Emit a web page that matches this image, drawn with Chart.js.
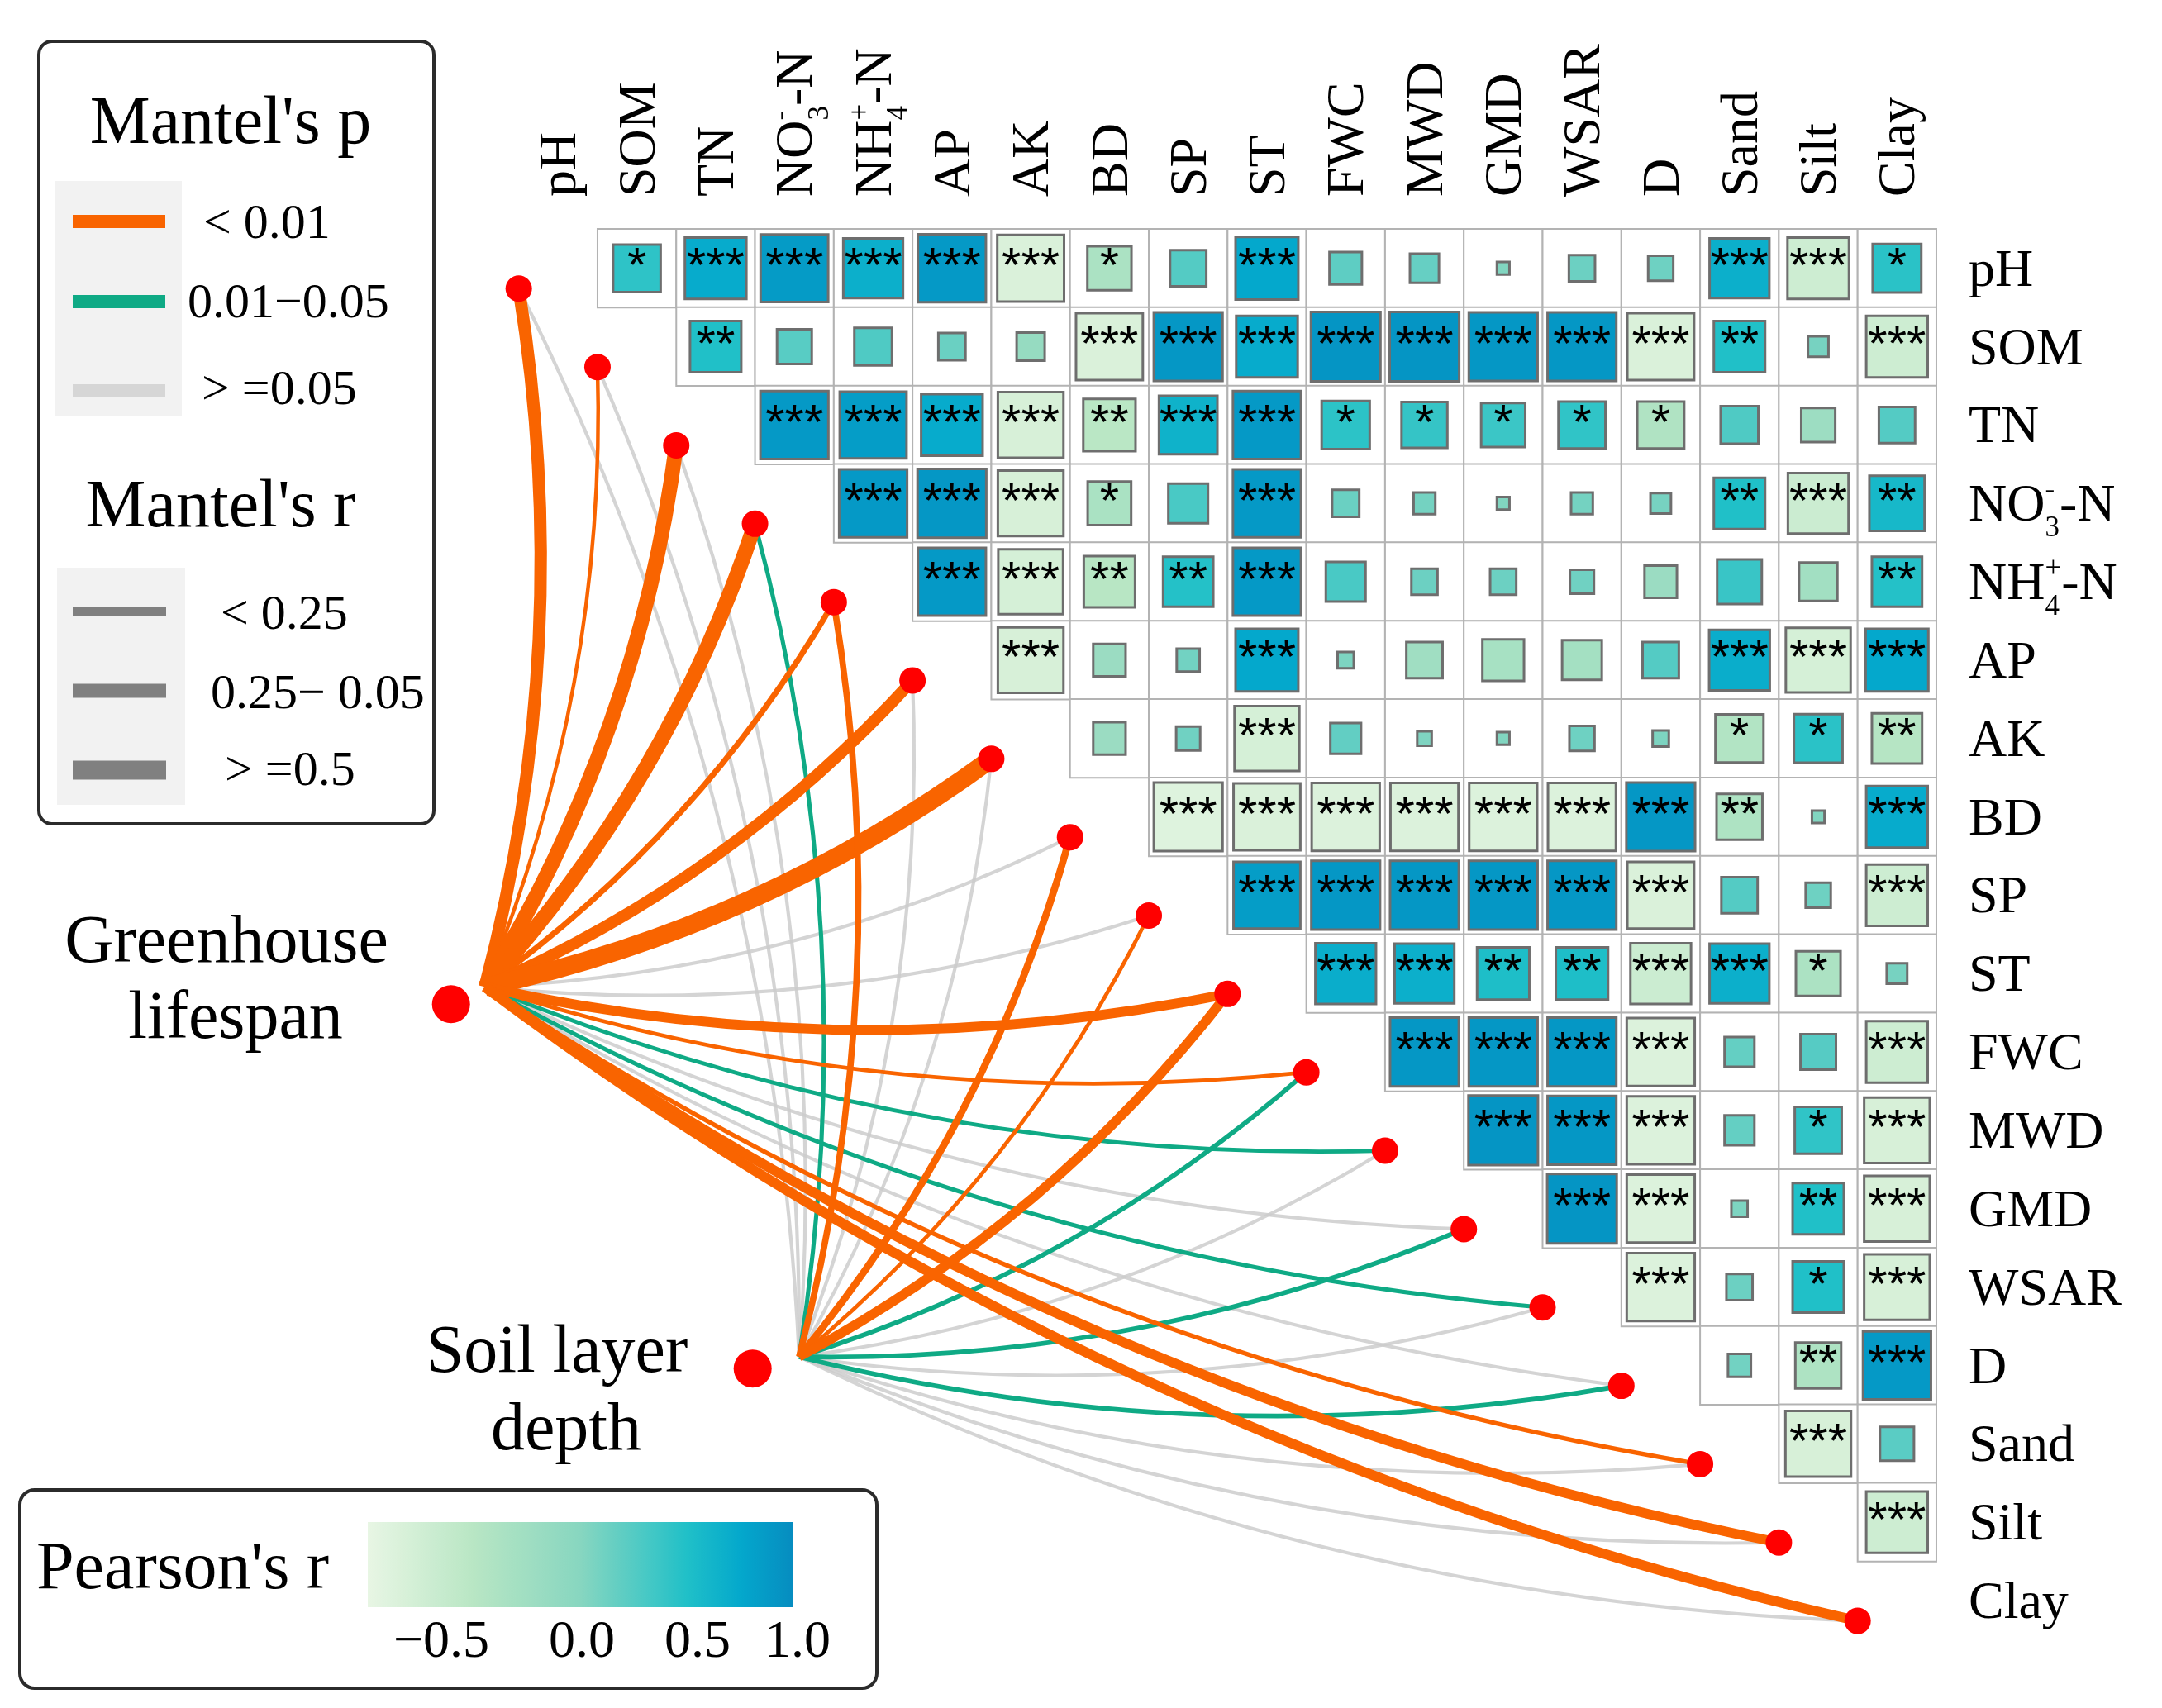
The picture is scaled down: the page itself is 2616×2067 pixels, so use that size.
<!DOCTYPE html>
<html>
<head>
<meta charset="utf-8">
<script src="https://cdn.jsdelivr.net/npm/chart.js@4.4.1/dist/chart.umd.min.js"></script>
<style>
html,body{margin:0;padding:0;background:#ffffff;overflow:hidden;}
#wrap{width:2616px;height:2067px;position:relative;}
canvas{display:block;}
</style>
</head>
<body>
<div id="wrap"><canvas id="c" width="2616" height="2067" style="width:2616px;height:2067px"></canvas></div>
<script>
// ---------------- DATA ----------------
const vars = ['pH','SOM','TN','NO3-N','NH4-N','AP','AK','BD','SP','ST','FWC','MWD','GMD','WSAR','D','Sand','Silt','Clay'];

// Pearson's r, upper triangle: row i holds columns i+1 .. 17
const corrR = [
  [0.43,0.72,0.87,0.68,0.88,-0.85,-0.37,0.25,0.75,0.20,0.16,0.03,0.13,0.12,0.68,-0.72,0.45],
  [0.50,0.23,0.27,0.14,-0.15,-0.85,0.90,0.72,0.92,0.92,0.90,0.90,-0.85,0.50,0.08,-0.72],
  [0.88,0.85,0.72,-0.82,-0.52,0.65,0.88,0.44,0.40,0.37,0.42,-0.42,0.27,-0.22,0.25],
  [0.88,0.90,-0.82,-0.36,0.30,0.88,0.14,0.09,0.03,0.09,0.08,0.50,-0.70,0.58],
  [0.88,-0.80,-0.50,0.48,0.88,0.30,0.13,0.13,0.11,-0.20,0.38,-0.28,0.48],
  [-0.82,-0.20,0.10,0.75,0.05,-0.25,-0.33,-0.30,0.25,0.70,-0.80,0.75],
  [-0.20,0.11,-0.80,0.18,0.04,0.03,0.12,0.05,-0.44,0.45,-0.48],
  [-0.90,-0.85,-0.88,-0.88,-0.88,-0.88,0.90,-0.40,0.03,0.72],
  [0.85,0.90,0.90,0.90,0.90,-0.85,0.25,0.12,-0.72],
  [0.70,0.68,0.52,0.52,-0.70,0.68,-0.38,0.08],
  [0.90,0.90,0.90,-0.88,0.17,0.24,-0.72],
  [0.92,0.90,-0.88,0.17,0.42,-0.82],
  [0.92,-0.88,0.05,0.50,-0.82],
  [-0.88,0.13,0.50,-0.82],
  [0.10,-0.40,0.88],
  [-0.82,0.22],
  [-0.72]
];
// number of significance stars for the same cells
const corrStars = [
  [1,3,3,3,3,3,1,0,3,0,0,0,0,0,3,3,1],
  [2,0,0,0,0,3,3,3,3,3,3,3,3,2,0,3],
  [3,3,3,3,2,3,3,1,1,1,1,1,0,0,0],
  [3,3,3,1,0,3,0,0,0,0,0,2,3,2],
  [3,3,2,2,3,0,0,0,0,0,0,0,2],
  [3,0,0,3,0,0,0,0,0,3,3,3],
  [0,0,3,0,0,0,0,0,1,1,2],
  [3,3,3,3,3,3,3,2,0,3],
  [3,3,3,3,3,3,0,0,3],
  [3,3,2,2,3,3,1,0],
  [3,3,3,3,0,0,3],
  [3,3,3,0,1,3],
  [3,3,0,2,3],
  [3,0,1,3],
  [0,2,3],
  [3,0],
  [3]
];

// Mantel test: Greenhouse lifespan vs each variable
const glMantelP = [0.001,0.001,0.001,0.001,0.001,0.001,0.001,0.20,0.30,0.001,0.005,0.03,0.15,0.03,0.20,0.005,0.001,0.001];
const glMantelR = [0.47,0.14,0.56,0.57,0.22,0.44,0.70,0.13,0.13,0.38,0.15,0.15,0.13,0.16,0.13,0.17,0.37,0.38];
// Mantel test: Soil layer depth vs each variable
const sldMantelP = [0.50,0.40,0.30,0.02,0.001,0.30,0.40,0.001,0.005,0.001,0.02,0.20,0.03,0.30,0.02,0.40,0.50,0.50];
const sldMantelR = [0.13,0.13,0.13,0.16,0.24,0.13,0.13,0.27,0.15,0.36,0.18,0.13,0.18,0.13,0.18,0.13,0.13,0.13];

const pearsonTicks = [-0.5, 0.0, 0.5, 1.0];
const pLegendLabels = ['< 0.01', '0.01\u22120.05', '> =0.05'];
const rLegendLabels = ['< 0.25', '0.25\u2212 0.05', '> =0.5'];

// ---------------- STYLE ----------------
const ORANGE = '#F96400', GREEN = '#0FAA85', GREY = 'rgba(205,205,205,0.85)';
const SERIF = '"Liberation Serif", "Times New Roman", serif';
const SANS = '"Liberation Sans", Arial, sans-serif';
const UNIT = 97;                 // pixels per grid cell
const X0 = 664, Y0 = 308.5;      // pixel of the first cell centre
const W = 2616, H = 2067;
const XMIN = -X0 / UNIT, XMAX = XMIN + W / UNIT;
const YMIN = -Y0 / UNIT, YMAX = YMIN + H / UNIT;

const stops = [
  [-1.0, [232,246,228]],
  [-0.5, [184,230,196]],
  [ 0.0, [135,214,192]],
  [ 0.5, [ 32,192,200]],
  [ 0.75,[  4,168,204]],
  [ 1.0, [  6,140,192]]
];
function colorFor(v){
  v = Math.max(-1, Math.min(1, v));
  for (let k = 0; k < stops.length - 1; k++){
    const [a, ca] = stops[k], [b, cb] = stops[k+1];
    if (v <= b){
      const t = (v - a) / (b - a);
      const c = ca.map((q, i) => Math.round(q + (cb[i] - q) * t));
      return 'rgb(' + c.join(',') + ')';
    }
  }
  return 'rgb(6,140,192)';
}
function pColor(p){ return p < 0.01 ? ORANGE : (p < 0.05 ? GREEN : GREY); }
function rWidth(r){ return 32 * r; }

// ---------------- POINTS ----------------
const cellPts = [], sqPts = [];
corrR.forEach((row, i) => row.forEach((r, k) => {
  const j = i + 1 + k;
  cellPts.push({x: j, y: i});
  sqPts.push({x: j, y: i, r: r, s: corrStars[i][k]});
}));
const envPts = vars.map((v, i) => ({x: i - 0.5, y: i + 0.26}));
const srcOrigins = [{x: -0.93, y: 9.17}, {x: 3.06, y: 13.89}];
const srcDots = [{x: -1.36, y: 9.39}, {x: 2.47, y: 14.04}];

function unitPx(chart){ return chart.scales.x.getPixelForValue(1) - chart.scales.x.getPixelForValue(0); }

// ---------------- PLUGINS ----------------
const mantelLines = {
  id: 'mantelLines',
  beforeDatasetsDraw(chart){
    const ctx = chart.ctx, xs = chart.scales.x, ys = chart.scales.y;
    const segs = [];
    [[glMantelP, glMantelR], [sldMantelP, sldMantelR]].forEach(([P, R], s) => {
      P.forEach((p, i) => segs.push({s, i, p, r: R[i]}));
    });
    const rank = p => p < 0.01 ? 2 : (p < 0.05 ? 1 : 0);
    segs.sort((a, b) => rank(a.p) - rank(b.p));
    ctx.save();
    ctx.lineCap = 'butt';
    segs.forEach(sg => {
      const o = srcOrigins[sg.s], e = envPts[sg.i];
      const x0 = xs.getPixelForValue(o.x), y0 = ys.getPixelForValue(o.y);
      const x1 = xs.getPixelForValue(e.x), y1 = ys.getPixelForValue(e.y);
      const dx = x1 - x0, dy = y1 - y0, L = Math.hypot(dx, dy);
      const k = 0.106 * L;
      const cx = (x0 + x1) / 2 + (-dy / L) * k, cy = (y0 + y1) / 2 + (dx / L) * k;
      ctx.beginPath();
      ctx.moveTo(x0, y0);
      ctx.quadraticCurveTo(cx, cy, x1, y1);
      ctx.strokeStyle = pColor(sg.p);
      ctx.lineWidth = rWidth(sg.r);
      ctx.stroke();
    });
    ctx.restore();
  }
};

function richParts(label){
  if (label === 'NO3-N') return [{t:'NO'}, {sub:'3', sup:'-'}, {t:'-N'}];
  if (label === 'NH4-N') return [{t:'NH'}, {sub:'4', sup:'+'}, {t:'-N'}];
  return [{t: label}];
}
function drawRich(ctx, label, fs){
  let x = 0;
  richParts(label).forEach(p => {
    if (p.t !== undefined){
      ctx.font = fs + 'px ' + SERIF;
      ctx.fillText(p.t, x, 0);
      x += ctx.measureText(p.t).width;
    } else {
      const f2 = Math.round(fs * 0.55);
      ctx.font = f2 + 'px ' + SERIF;
      const w1 = ctx.measureText(p.sub).width, w2 = ctx.measureText(p.sup).width;
      ctx.fillText(p.sub, x, fs * 0.30);
      ctx.fillText(p.sup, x, -fs * 0.42);
      x += Math.max(w1, w2);
    }
  });
}

const annotations = {
  id: 'annotations',
  afterDatasetsDraw(chart){
    const ctx = chart.ctx, xs = chart.scales.x, ys = chart.scales.y;
    ctx.save();
    ctx.fillStyle = '#000';
    ctx.font = '60px ' + SANS;
    ctx.textAlign = 'center';
    ctx.textBaseline = 'middle';
    sqPts.forEach(pt => {
      if (pt.s > 0) ctx.fillText('*'.repeat(pt.s), xs.getPixelForValue(pt.x), ys.getPixelForValue(pt.y));
    });
    ctx.restore();
  },
  afterDraw(chart){
    const ctx = chart.ctx, xs = chart.scales.x, ys = chart.scales.y;
    const u = unitPx(chart);
    ctx.save();
    ctx.fillStyle = '#000';
    ctx.textBaseline = 'alphabetic';
    ctx.textAlign = 'left';
    const FS = 64;
    // right-hand row labels
    vars.forEach((v, i) => {
      ctx.save();
      ctx.translate(xs.getPixelForValue(17) + u * 0.5 + 39, ys.getPixelForValue(i) + FS * 0.33);
      drawRich(ctx, v, FS);
      ctx.restore();
    });
    // top column labels
    vars.forEach((v, i) => {
      ctx.save();
      ctx.translate(xs.getPixelForValue(i) + FS * 0.33, ys.getPixelForValue(0) - u * 0.5 - 39);
      ctx.rotate(-Math.PI / 2);
      drawRich(ctx, v, FS);
      ctx.restore();
    });
    // source labels
    ctx.font = '82px ' + SERIF;
    ctx.textAlign = 'center';
    ctx.fillText('Greenhouse', 274, 1164);
    ctx.fillText('lifespan', 285, 1256);
    ctx.fillText('Soil layer', 674, 1660);
    ctx.fillText('depth', 685, 1754);

    // ---- Mantel legend box ----
    function rrect(x, y, w, h, r){
      ctx.beginPath();
      ctx.moveTo(x + r, y);
      ctx.arcTo(x + w, y, x + w, y + h, r);
      ctx.arcTo(x + w, y + h, x, y + h, r);
      ctx.arcTo(x, y + h, x, y, r);
      ctx.arcTo(x, y, x + w, y, r);
      ctx.closePath();
    }
    ctx.lineWidth = 4;
    ctx.strokeStyle = '#2b2b2b';
    rrect(47, 50, 478, 947, 16);
    ctx.stroke();
    ctx.fillStyle = '#000';
    ctx.font = '82px ' + SERIF;
    ctx.fillText("Mantel's p", 279, 173);
    ctx.fillStyle = '#f2f2f2';
    ctx.fillRect(67, 219, 153, 285);
    const pCols = [ORANGE, GREEN, '#d6d6d6'];
    const pY = [268, 365, 473];
    const pLX = [246, 227, 244];
    const pBL = [288, 384, 489];
    ctx.lineCap = 'butt';
    pY.forEach((y, k) => {
      ctx.beginPath(); ctx.moveTo(88, y); ctx.lineTo(200, y);
      ctx.strokeStyle = pCols[k]; ctx.lineWidth = 16; ctx.stroke();
    });
    ctx.fillStyle = '#000';
    ctx.font = '60px ' + SERIF;
    ctx.textAlign = 'left';
    pLegendLabels.forEach((t, k) => ctx.fillText(t, pLX[k], pBL[k]));
    ctx.textAlign = 'center';
    ctx.font = '82px ' + SERIF;
    ctx.fillText("Mantel's r", 267, 637);
    ctx.fillStyle = '#f2f2f2';
    ctx.fillRect(69, 687, 155, 287);
    const rY = [740, 836, 932], rW = [11, 17, 23];
    rY.forEach((y, k) => {
      ctx.beginPath(); ctx.moveTo(88, y); ctx.lineTo(201, y);
      ctx.strokeStyle = '#808080'; ctx.lineWidth = rW[k]; ctx.stroke();
    });
    ctx.fillStyle = '#000';
    ctx.font = '60px ' + SERIF;
    ctx.textAlign = 'left';
    const rLX = [267, 255, 272], rBL = [761, 857, 950];
    rLegendLabels.forEach((t, k) => ctx.fillText(t, rLX[k], rBL[k]));

    // ---- Pearson legend ----
    ctx.lineWidth = 4;
    ctx.strokeStyle = '#2b2b2b';
    rrect(24, 1803, 1037, 240, 18);
    ctx.stroke();
    ctx.fillStyle = '#000';
    ctx.font = '82px ' + SERIF;
    ctx.textAlign = 'left';
    ctx.fillText("Pearson's r", 44, 1922);
    const bx0 = 445, bx1 = 960, by0 = 1842, by1 = 1945;
    const g = ctx.createLinearGradient(bx0, 0, bx1, 0);
    for (let k = 0; k <= 40; k++){ const v = -1 + 2 * k / 40; g.addColorStop(k / 40, colorFor(v)); }
    ctx.fillStyle = g;
    ctx.fillRect(bx0, by0, bx1 - bx0, by1 - by0);
    ctx.fillStyle = '#000';
    ctx.font = '64px ' + SERIF;
    ctx.textAlign = 'center';
    const tickX = [534, 704, 844, 965];   // label centres as placed in the original legend
    pearsonTicks.forEach((v, k) => {
      const txt = (v < 0 ? '\u2212' : '') + Math.abs(v).toFixed(1);
      ctx.fillText(txt, tickX[k], 2005);
    });
    ctx.restore();
  }
};

// ---------------- CHART ----------------
new Chart(document.getElementById('c'), {
  type: 'scatter',
  data: {
    datasets: [
      { label: 'env', data: envPts, pointStyle: 'circle', pointRadius: 16, pointHoverRadius: 16,
        backgroundColor: '#FF0000', borderWidth: 0, order: 0 },
      { label: 'sources', data: srcDots, pointStyle: 'circle', pointRadius: 23, pointHoverRadius: 23,
        backgroundColor: '#FF0000', borderWidth: 0, order: 0 },
      { label: 'pearson', data: sqPts, pointStyle: 'rect',
        pointRadius: c => unitPx(c.chart) * 0.92 * Math.sqrt(Math.abs(c.raw.r)) / Math.SQRT2,
        pointHoverRadius: c => unitPx(c.chart) * 0.92 * Math.sqrt(Math.abs(c.raw.r)) / Math.SQRT2,
        backgroundColor: c => colorFor(c.raw.r), borderColor: '#6e6e6e', borderWidth: 3, order: 1 },
      { label: 'cells', data: cellPts, pointStyle: 'rect',
        pointRadius: c => unitPx(c.chart) / Math.SQRT2, pointHoverRadius: c => unitPx(c.chart) / Math.SQRT2,
        backgroundColor: '#ffffff', borderColor: '#b3b3b3', borderWidth: 2, order: 2 }
    ]
  },
  options: {
    responsive: false, maintainAspectRatio: false, devicePixelRatio: 1, animation: false, events: [],
    layout: { padding: 0 },
    plugins: { legend: { display: false }, tooltip: { enabled: false } },
    scales: {
      x: { type: 'linear', min: XMIN, max: XMAX, display: false },
      y: { type: 'linear', min: YMIN, max: YMAX, reverse: true, display: false }
    }
  },
  plugins: [mantelLines, annotations]
});
</script>
</body>
</html>
